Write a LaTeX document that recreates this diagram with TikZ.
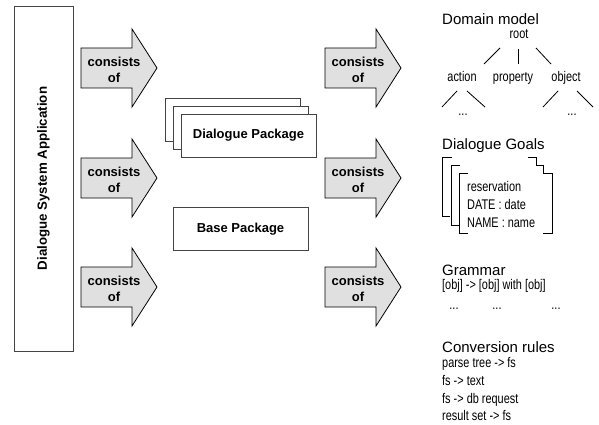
\documentclass[tikz,border=0pt]{standalone}
\usepackage{fontspec}
\setmainfont{Liberation Sans}
\newfontfamily\narrowfont[FakeStretch=0.78]{Liberation Sans}
\definecolor{arrowgray}{HTML}{E0E0E0}
\definecolor{boxline}{HTML}{444444}
\tikzset{
  arrowshape/.style={draw=black, fill=arrowgray, line width=0.8pt, line join=miter},
  arrowtext/.style={font=\bfseries\fontsize{13}{16}\selectfont, align=center, inner sep=0pt},
  pkgbox/.style={draw=boxline, fill=white, line width=0.8pt, minimum width=135pt, minimum height=43pt, inner sep=0pt, font=\bfseries\fontsize{13}{16}\selectfont},
  heading/.style={anchor=base west, inner sep=0pt, font=\fontsize{15}{18}\selectfont},
  small/.style={anchor=base west, inner sep=0pt, font=\narrowfont\fontsize{14}{16}\selectfont},
  smallc/.style={anchor=base, inner sep=0pt, font=\narrowfont\fontsize{14}{16}\selectfont},
  thin/.style={line width=0.8pt, black}
}
\newcommand\consarrow[3]{%
  \draw[arrowshape] (#2,#3-20) -- (#2+51,#3-20) -- (#2+51,#3-39) -- (#2+76,#3) -- (#2+51,#3+39) -- (#2+51,#3+20) -- (#2,#3+20) -- cycle;
  \node[arrowtext] (#1) at (#2+33,#3+2) {consists\\of};
}
\begin{document}
\begin{tikzpicture}[x=1pt,y=-1pt]
\useasboundingbox (0,0) rectangle (599,425);

% application box
\node[draw=boxline, line width=0.8pt, rotate=90, minimum width=345pt, minimum height=59pt, inner sep=0pt,
      font=\bfseries\fontsize{13.3}{16}\selectfont] (app) at (43.5,178.5) {Dialogue System Application};

% arrows
\consarrow{a1}{81}{68}
\consarrow{a2}{81}{178}
\consarrow{a3}{81}{287}
\consarrow{b1}{325}{68}
\consarrow{b2}{325}{178}
\consarrow{b3}{325}{287}

% dialogue package stack
\node[pkgbox] (dp3) at (232.5,119.5) {};
\node[pkgbox] (dp2) at (240.5,127.5) {};
\node[pkgbox] (dp1) at (248.5,135.5) {Dialogue Package};

% base package
\node[pkgbox] (bp) at (240.5,229) {Base Package};

% domain model
\node[heading] (dm) at (442,25) {Domain model};
\node[smallc] (root) at (519,39) {root};
\node[smallc] (action) at (462,82) {action};
\node[smallc] (property) at (513,82) {property};
\node[smallc] (object) at (566,82) {object};
\node[smallc] (dots1) at (463,115) {...};
\node[smallc] (dots2) at (572,115) {...};
\draw[thin] (500,48) -- (484,64);
\draw[thin] (518,49) -- (518,64);
\draw[thin] (536,48) -- (551,64);
\draw[thin] (457,91) -- (442,107);
\draw[thin] (467,91) -- (485,107);
\draw[thin] (558,91) -- (543,107);
\draw[thin] (577,91) -- (593,107);

% dialogue goals
\node[heading] (dg) at (442,149) {Dialogue Goals};
\draw[thin] (452,157) -- (442,157) -- (442,216) -- (450,216);
\draw[thin] (460,165) -- (451,165) -- (451,225) -- (459,225);
\draw[thin] (468,173) -- (459,173) -- (459,233) -- (468,233);
\draw[thin] (528,157) -- (536,157) -- (536,165) -- (543,165) -- (543,173) -- (552,173) -- (552,233) -- (543,233);
\node[small] (g1) at (467,191) {reservation};
\node[small] (g2) at (467,209) {DATE : date};
\node[small] (g3) at (467,227) {NAME : name};

% grammar
\node[heading] (gr) at (442,275) {Grammar};
\node[small] (gr1) at (442,289) {[obj] -> [obj] with [obj]};
\node[smallc] (gd1) at (454,309) {...};
\node[smallc] (gd2) at (497,309) {...};
\node[smallc] (gd3) at (556,309) {...};

% conversion rules
\node[heading] (cr) at (442,352) {Conversion rules};
\node[small] (c1) at (442,367) {parse tree -> fs};
\node[small] (c2) at (442,385) {fs -> text};
\node[small] (c3) at (442,403) {fs -> db request};
\node[small] (c4) at (442,420) {result set -> fs};
\end{tikzpicture}
\end{document}
